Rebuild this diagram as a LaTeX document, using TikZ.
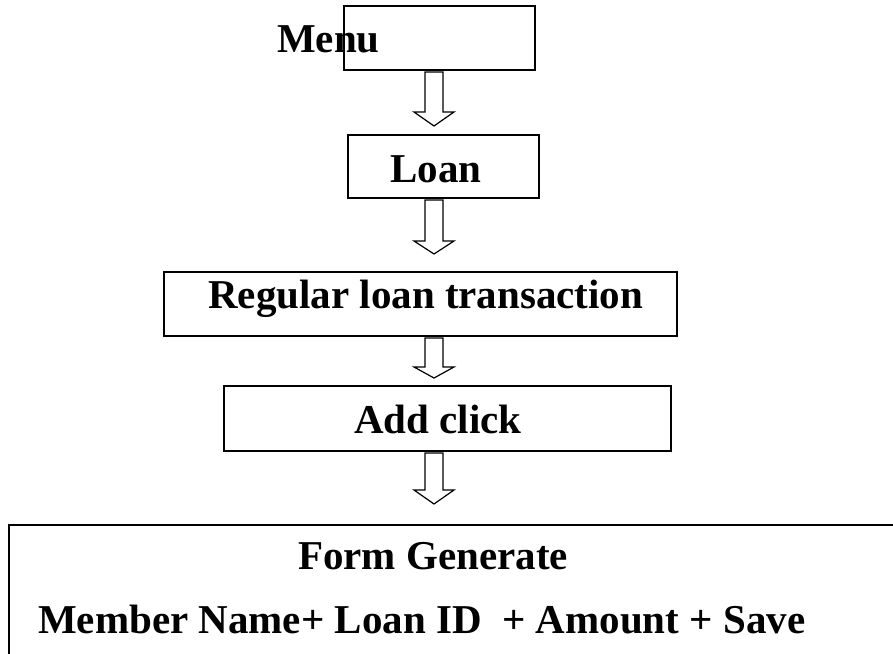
\documentclass[tikz,border=0pt]{standalone}
\usepackage{fontspec}
\setmainfont{Liberation Serif}
\usetikzlibrary{calc}
\newcommand\blockarrow[4]{%
  \path (axis |- #1.south) coordinate (#4);
  \draw[barrow] ($(#4)+(-9,2)$) -- ($(#4)+(-9,#2)$) -- ($(#4)+(-20,#2)$) -- ($(#4)+(0,#3)$)
    -- ($(#4)+(20,#2)$) -- ($(#4)+(9,#2)$) -- ($(#4)+(9,2)$) -- cycle;}
\begin{document}
\begin{tikzpicture}[x=1pt,y=-1pt,
  box/.style={draw, line width=1.4pt, inner sep=0pt, outer sep=0pt, anchor=north west},
  lbl/.style={font=\fontsize{41}{41}\selectfont\bfseries, anchor=base west, inner sep=0pt},
  barrow/.style={draw, line width=1.2pt, fill=white, line join=miter}]
\useasboundingbox (0,0) rectangle (893,653);
\clip (0,0) rectangle (893,653);
\coordinate (axis) at (434,0);
% boxes
\node[box, minimum width=191pt, minimum height=64pt] (menu) at (344,6) {};
\node[box, minimum width=191pt, minimum height=63pt] (loan) at (348,135) {};
\node[box, minimum width=513pt, minimum height=64pt] (reg) at (164,272) {};
\node[box, minimum width=447pt, minimum height=65pt] (add) at (224,386) {};
\node[box, minimum width=900pt, minimum height=140pt] (form) at (9,525) {};
% labels
\node[lbl] (tmenu) at (277,52) {Menu};
\node[lbl] (tloan) at (390,182) {Loan};
\node[lbl] (treg) at (208,308) {Regular loan transaction};
\node[lbl] (tadd) at (354,433) {Add click};
\node[lbl] (tform) at (298,569) {Form Generate};
\node[lbl] (tmember) at (38,633) {Member Name+ Loan ID\ \ + Amount + Save};
% arrows
\blockarrow{menu}{42}{56}{a1}
\blockarrow{loan}{43}{56}{a2}
\blockarrow{reg}{31}{42}{a3}
\blockarrow{add}{39}{53}{a4}
\end{tikzpicture}
\end{document}
